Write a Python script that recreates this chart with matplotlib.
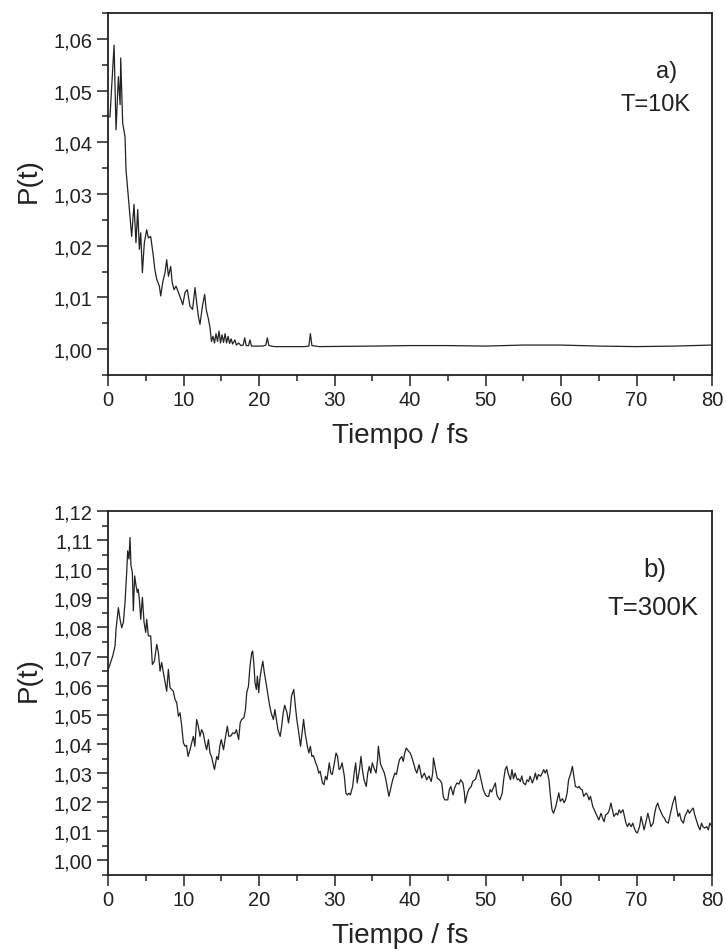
import matplotlib
matplotlib.use("Agg")
import matplotlib.pyplot as plt
from matplotlib.ticker import MultipleLocator, FuncFormatter

plt.rcParams['font.family'] = ['Liberation Sans', 'DejaVu Sans']

# a) T=10K  -- tiempo (fs) y P(t)
t_a = [0.0, 0.26, 0.8, 1.06, 1.37, 1.6, 1.68, 1.94, 2.25, 2.38, 2.83, 3.13, 3.44, 3.7,
       3.93, 4.15, 4.33, 4.55, 4.81, 5.12, 5.34, 5.65, 6.0, 6.2, 6.45, 6.8, 6.98, 7.24,
       7.55, 7.77, 8.0, 8.3, 8.5, 8.74, 9.0, 9.32, 9.9, 10.2, 10.5, 10.85, 11.2, 11.52,
       11.74, 11.96, 12.18, 12.5, 12.8, 13.0, 13.3, 13.5, 13.7, 13.9, 14.1, 14.3, 14.5,
       14.7, 14.9, 15.1, 15.3, 15.5, 15.7, 15.9, 16.1, 16.3, 16.5, 16.8, 17.0, 17.3,
       17.6, 17.9, 18.1, 18.3, 18.6, 18.8, 19.0, 19.5, 20.0, 20.5, 20.9, 21.1, 21.3,
       22.0, 24.0, 26.0, 26.6, 26.8, 27.0, 28.0, 35.0, 40.0, 45.0, 50.0, 55.0, 60.0,
       65.0, 70.0, 75.0, 80.0]
p_a = [1.0448, 1.045, 1.0588, 1.0424, 1.0527, 1.0473, 1.0563, 1.0437, 1.0411, 1.0347,
       1.027, 1.0218, 1.028, 1.0206, 1.027, 1.0193, 1.0225, 1.0148, 1.0206, 1.0231,
       1.0215, 1.0218, 1.018, 1.0154, 1.0135, 1.0122, 1.0103, 1.0129, 1.0148, 1.0173,
       1.0141, 1.016, 1.0129, 1.0115, 1.0122, 1.011, 1.0086, 1.011, 1.0115, 1.0083,
       1.0077, 1.0119, 1.009, 1.0064, 1.0048, 1.0083, 1.0106, 1.0077, 1.0058, 1.0042,
       1.0015, 1.0025, 1.0012, 1.003, 1.0015, 1.0035, 1.0012, 1.0028, 1.0013, 1.003,
       1.0012, 1.0025, 1.0011, 1.002, 1.001, 1.0018, 1.0008, 1.0012, 1.0007, 1.0008,
       1.0022, 1.0007, 1.0007, 1.0018, 1.0006, 1.0006, 1.0006, 1.0006, 1.0008, 1.0022,
       1.0007, 1.0005, 1.0005, 1.0005, 1.0006, 1.003, 1.0007, 1.0005, 1.0006, 1.0007,
       1.0007, 1.0006, 1.0008, 1.0008, 1.0006, 1.0005, 1.0006, 1.0008]

# b) T=300K
t_b = [0.0, 0.18, 0.62, 0.93, 1.06, 1.37, 1.59, 1.81, 2.03, 2.25, 2.47, 2.6, 2.78, 2.91,
       3.04, 3.22, 3.35, 3.53, 3.71, 3.88, 4.0, 4.15, 4.33, 4.55, 4.77, 4.99, 5.12,
       5.34, 5.65, 5.87, 6.14, 6.45, 6.67, 6.89, 7.1, 7.33, 7.77, 7.99, 8.21, 8.43,
       8.65, 8.87, 9.1, 9.32, 9.54, 9.76, 9.98, 10.2, 10.4, 10.6, 10.86, 11.08, 11.3,
       11.5, 11.74, 11.96, 12.18, 12.4, 12.6, 12.84, 13.06, 13.3, 13.5, 13.7, 13.9,
       14.1, 14.4, 14.6, 14.8, 15.0, 15.3, 15.5, 15.8, 16.0, 16.3, 16.5, 16.8, 17.0,
       17.3, 17.5, 17.7, 18.0, 18.2, 18.37, 18.6, 18.8, 19.03, 19.16, 19.3, 19.47,
       19.65, 19.78, 19.96, 20.1, 20.3, 20.5, 20.7, 21.0, 21.2, 21.4, 21.6, 21.9, 22.1,
       22.3, 22.5, 22.8, 23.0, 23.2, 23.4, 23.7, 23.9, 24.1, 24.3, 24.6, 24.8, 25.0,
       25.2, 25.5, 25.7, 25.9, 26.1, 26.4, 26.6, 26.8, 27.0, 27.2, 27.5, 27.7, 27.9,
       28.1, 28.4, 28.6, 28.8, 29.0, 29.3, 29.5, 29.7, 29.9, 30.2, 30.4, 30.6, 30.8,
       31.0, 31.3, 31.5, 31.7, 31.9, 32.1, 32.4, 32.6, 32.8, 33.0, 33.3, 33.5, 33.7,
       33.9, 34.2, 34.4, 34.6, 34.8, 35.0, 35.3, 35.5, 35.7, 35.8, 36.1, 36.4, 36.6,
       36.8, 37.2, 37.4, 37.7, 38.0, 38.2, 38.4, 38.6, 38.9, 39.1, 39.3, 39.5, 39.8,
       40.0, 40.2, 40.4, 40.7, 40.9, 41.2, 41.55, 41.9, 42.2, 42.5, 42.8, 43.0, 43.1,
       43.4, 43.6, 43.9, 44.2, 44.4, 44.6, 45.0, 45.2, 45.4, 45.7, 45.9, 46.2, 46.5,
       46.7, 47.0, 47.2, 47.3, 47.6, 47.8, 48.1, 48.3, 48.7, 48.9, 49.1, 49.3, 49.5,
       49.7, 50.0, 50.2, 50.4, 50.6, 50.8, 51.1, 51.3, 51.5, 51.7, 51.9, 52.2, 52.4,
       52.6, 52.8, 53.0, 53.3, 53.5, 53.7, 53.9, 54.2, 54.4, 54.6, 54.8, 55.0, 55.3,
       55.5, 55.7, 55.9, 56.2, 56.4, 56.6, 56.8, 57.0, 57.3, 57.5, 57.7, 57.9, 58.1,
       58.4, 58.6, 58.8, 59.0, 59.3, 59.5, 59.7, 59.9, 60.2, 60.4, 60.6, 60.8, 61.0,
       61.3, 61.5, 61.7, 61.9, 62.2, 62.4, 62.6, 62.8, 63.0, 63.3, 63.5, 63.7, 63.9,
       64.2, 64.4, 64.6, 64.8, 65.0, 65.3, 65.5, 65.7, 65.9, 66.2, 66.4, 66.6, 66.8,
       67.0, 67.3, 67.5, 67.7, 67.9, 68.2, 68.4, 68.6, 68.8, 69.0, 69.3, 69.5, 69.7,
       69.9, 70.1, 70.4, 70.6, 70.8, 71.0, 71.3, 71.5, 71.7, 71.9, 72.2, 72.4, 72.6,
       72.8, 73.0, 73.3, 73.5, 73.7, 73.9, 74.2, 74.4, 74.6, 74.8, 75.1, 75.3, 75.5,
       75.7, 75.9, 76.2, 76.4, 76.6, 76.8, 77.0, 77.3, 77.5, 77.7, 77.9, 78.2, 78.4,
       78.6, 78.8, 79.0, 79.3, 79.5, 79.7, 80.0]
p_b = [1.0655, 1.0667, 1.0702, 1.0736, 1.0794, 1.0868, 1.0828, 1.0799, 1.0817, 1.0886,
       1.0989, 1.1063, 1.1035, 1.1109, 1.1012, 1.099, 1.0857, 1.0977, 1.0943, 1.092,
       1.0931, 1.0897, 1.0828, 1.0903, 1.0818, 1.0783, 1.0828, 1.0771, 1.0771, 1.0673,
       1.0684, 1.0742, 1.0714, 1.065, 1.068, 1.0645, 1.0581, 1.0656, 1.0593, 1.0587,
       1.0581, 1.0553, 1.0542, 1.0495, 1.0507, 1.0461, 1.0404, 1.0392, 1.0395, 1.0357,
       1.038, 1.0404, 1.0426, 1.0392, 1.0484, 1.0461, 1.0426, 1.0449, 1.0438, 1.0404,
       1.038, 1.0415, 1.0369, 1.0357, 1.0335, 1.0312, 1.0357, 1.0346, 1.0392, 1.0415,
       1.038, 1.0415, 1.0461, 1.0426, 1.0428, 1.0438, 1.0436, 1.0449, 1.0415, 1.0472,
       1.0484, 1.049, 1.0518, 1.0576, 1.0598, 1.0667, 1.0713, 1.0719, 1.068, 1.061,
       1.0587, 1.0633, 1.0576, 1.0621, 1.0656, 1.0684, 1.0645, 1.0598, 1.0564, 1.0533,
       1.0507, 1.0484, 1.0518, 1.0484, 1.0449, 1.0426, 1.0461, 1.0507, 1.0533, 1.0507,
       1.0472, 1.0507, 1.0564, 1.0587, 1.0533, 1.0484, 1.0449, 1.0392, 1.0438, 1.0484,
       1.0438, 1.0392, 1.0369, 1.0392, 1.0357, 1.036, 1.0335, 1.0323, 1.03, 1.0306,
       1.0266, 1.026, 1.0289, 1.0277, 1.0335, 1.03, 1.0295, 1.0323, 1.0369, 1.0357,
       1.0312, 1.0318, 1.0335, 1.0289, 1.0231, 1.0225, 1.0231, 1.0225, 1.0254, 1.03,
       1.0335, 1.0266, 1.0312, 1.0357, 1.031, 1.0277, 1.0254, 1.03, 1.0323, 1.03,
       1.0335, 1.0312, 1.03, 1.0346, 1.0392, 1.033, 1.0312, 1.03, 1.0277, 1.022, 1.0243,
       1.0277, 1.03, 1.0295, 1.0323, 1.0346, 1.0357, 1.034, 1.0369, 1.0386, 1.0375,
       1.037, 1.0357, 1.034, 1.0312, 1.03, 1.0329, 1.0283, 1.03, 1.0277, 1.029, 1.0271,
       1.03, 1.0352, 1.031, 1.0283, 1.0277, 1.0266, 1.022, 1.0208, 1.0208, 1.0243,
       1.0254, 1.0225, 1.0249, 1.0266, 1.0262, 1.0277, 1.0266, 1.0232, 1.0197, 1.0231,
       1.0245, 1.0254, 1.0271, 1.028, 1.03, 1.0312, 1.0289, 1.0266, 1.0243, 1.0225,
       1.022, 1.022, 1.0243, 1.0235, 1.0254, 1.0266, 1.0225, 1.0215, 1.0208, 1.023,
       1.0277, 1.0312, 1.0323, 1.03, 1.0277, 1.0312, 1.028, 1.03, 1.0277, 1.028, 1.0271,
       1.029, 1.0266, 1.026, 1.0277, 1.0271, 1.0289, 1.0266, 1.028, 1.03, 1.0277,
       1.0295, 1.0289, 1.03, 1.0312, 1.03, 1.0312, 1.0277, 1.022, 1.0174, 1.0162,
       1.0185, 1.0208, 1.0232, 1.0203, 1.0212, 1.0198, 1.0208, 1.0231, 1.0277, 1.03,
       1.0323, 1.0289, 1.0254, 1.025, 1.0254, 1.0245, 1.0243, 1.022, 1.0231, 1.0225,
       1.0208, 1.022, 1.0185, 1.0174, 1.0162, 1.0151, 1.0139, 1.0162, 1.0145, 1.0133,
       1.0156, 1.0162, 1.0174, 1.0197, 1.0174, 1.0151, 1.0162, 1.0156, 1.0174, 1.0163,
       1.0174, 1.0151, 1.0128, 1.0116, 1.0128, 1.0116, 1.0128, 1.0111, 1.0099, 1.0094,
       1.0116, 1.0151, 1.0128, 1.0105, 1.014, 1.0162, 1.014, 1.0116, 1.0128, 1.0162,
       1.0185, 1.0197, 1.018, 1.0162, 1.0151, 1.0145, 1.0133, 1.0128, 1.0151, 1.0174,
       1.0197, 1.022, 1.018, 1.0151, 1.0162, 1.0139, 1.0128, 1.0151, 1.0162, 1.0174,
       1.0162, 1.0174, 1.018, 1.0157, 1.014, 1.0116, 1.0105, 1.0128, 1.0116, 1.0111,
       1.0116, 1.0105, 1.0128, 1.0116]

paneles = [
    (t_a, p_a, (0.995, 1.065), ["a)", "T=10K"]),
    (t_b, p_b, (0.995, 1.12), ["b)", "T=300K"]),
]
posiciones = [[0.1488, 0.6054, 0.8320, 0.3799], [0.1488, 0.0808, 0.8320, 0.3820]]
pos_textos = [[(0.925, 0.84), (0.907, 0.75)], [(0.906, 0.84), (0.902, 0.736)]]
tam_textos = [17, 18.5]

coma = FuncFormatter(lambda v, pos: f"{v:.2f}".replace(".", ","))
gris = "#222222"

fig = plt.figure(figsize=(7.26, 9.53), dpi=100)

for i, (t, p, ylim, textos) in enumerate(paneles):
    ax = fig.add_axes(posiciones[i])
    ax.plot(t, p, color=gris, lw=0.9)
    ax.set_xlim(0, 80)
    ax.set_ylim(*ylim)
    ax.xaxis.set_major_locator(MultipleLocator(10))
    ax.xaxis.set_minor_locator(MultipleLocator(5))
    ax.yaxis.set_major_locator(MultipleLocator(0.01))
    ax.yaxis.set_minor_locator(MultipleLocator(0.005))
    ax.yaxis.set_major_formatter(coma)
    ax.tick_params(which="major", direction="out", length=8, width=1.1,
                   labelsize=14.5, colors=gris, pad=3)
    ax.tick_params(which="minor", direction="out", length=4, width=1.1, colors=gris)
    ax.tick_params(top=False, right=False)
    for s in ax.spines.values():
        s.set_linewidth(1.3)
        s.set_color(gris)
    ax.set_xlabel("Tiempo / fs", fontsize=20, color=gris)
    ax.set_ylabel("P(t)", fontsize=20, color=gris)
    ax.xaxis.set_label_coords(0.483, -0.13)
    ax.yaxis.set_label_coords(-0.109, 0.54)
    for (x, y), txt in zip(pos_textos[i], textos):
        ax.text(x, y, txt, transform=ax.transAxes, ha="center", va="center",
                fontsize=tam_textos[i], color=gris)

fig.savefig("out.png", dpi=100)
